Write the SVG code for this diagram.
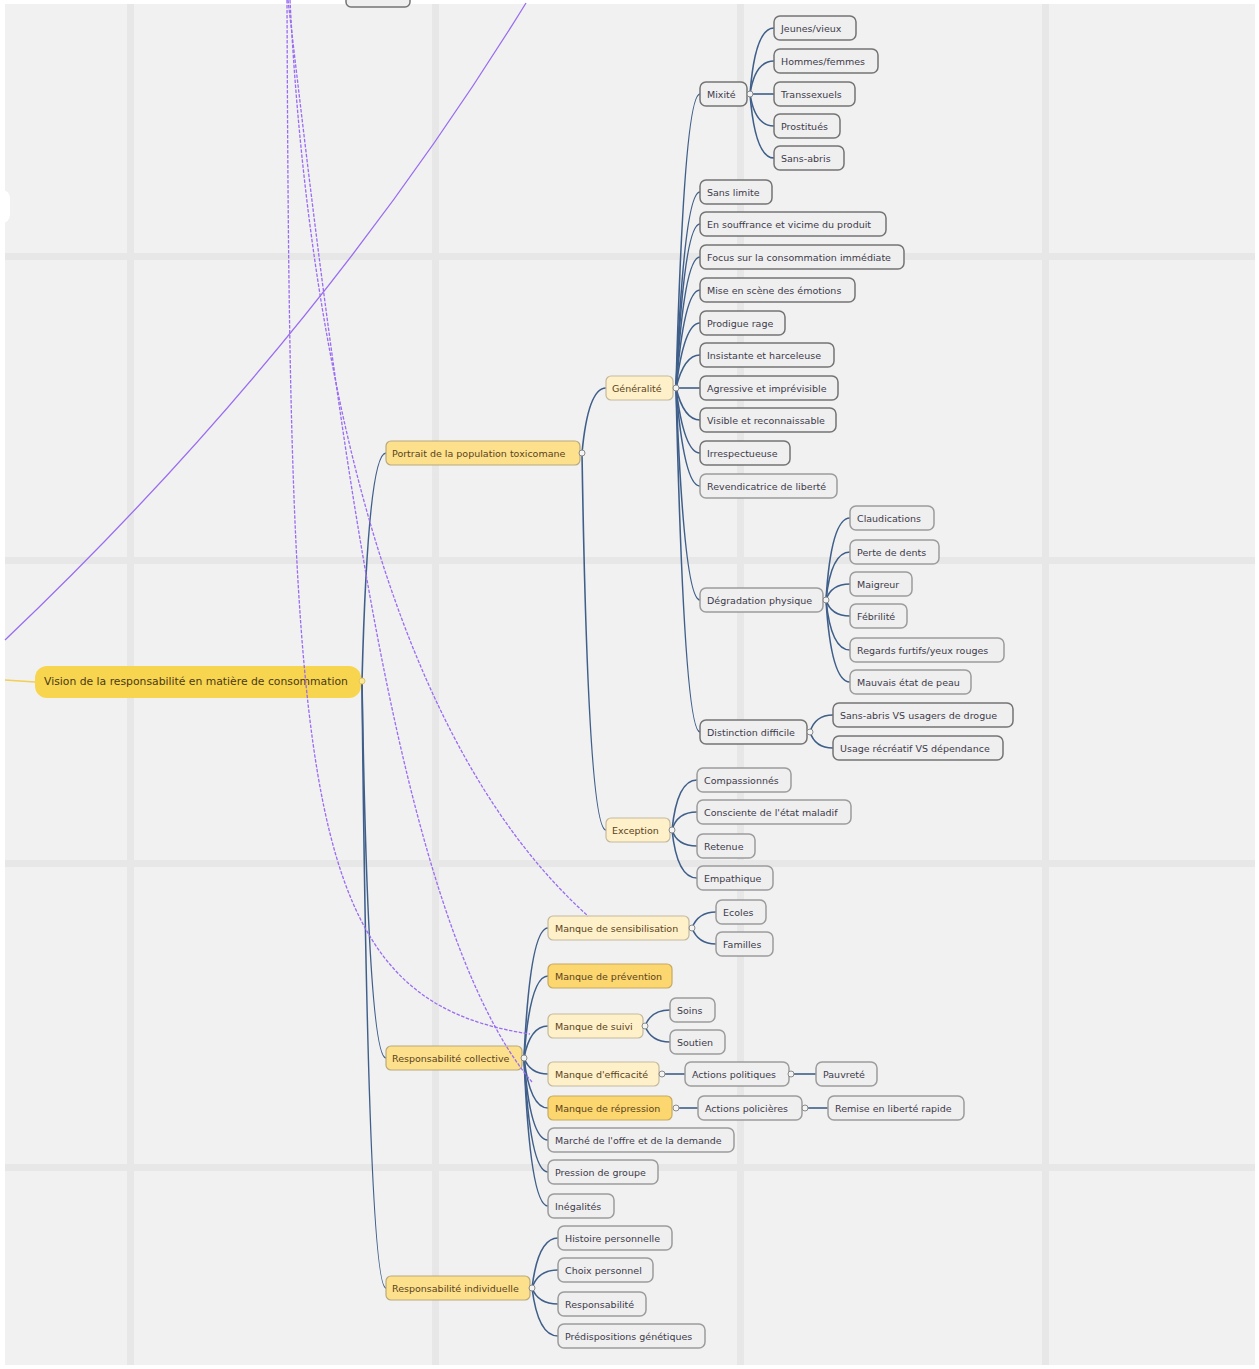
<svg xmlns="http://www.w3.org/2000/svg" width="1259" height="1369" viewBox="0 0 1259 1369">
<style>
text{font-family:"DejaVu Sans",Verdana,sans-serif;font-size:9.5px;fill:#3d3a4a}
.g rect{fill:#efefef;stroke:#747474;stroke-width:1.5}
.gl rect{fill:#efefef;stroke:#9c9c9c;stroke-width:1.5}
.l1 rect{fill:#fde08c;stroke:#b9a97e;stroke-width:1.2}
.pa rect{fill:#fef0c9;stroke:#c3b99d;stroke-width:1.2}
.dk rect{fill:#fcd66f;stroke:#c6aa62;stroke-width:1.2}
.l1 text,.pa text,.dk text{fill:#5a4320}
.c path{fill:none;stroke:#3f5f8a;stroke-width:1.6}
.dot{fill:#f4f4f4;stroke:#8a8a8a;stroke-width:1}
.pl{fill:none;stroke:#9a6cf0;stroke-width:1.3}
.pd{fill:none;stroke:#9a6cf0;stroke-width:1.3;stroke-dasharray:3.5 1.5}
</style>
<rect x="0" y="0" width="1259" height="1369" fill="#ffffff"/>
<rect x="5" y="4" width="1250" height="1361" fill="#f1f1f1"/>
<g fill="#e7e7e7">
<rect x="127" y="4" width="7" height="1361"/>
<rect x="432" y="4" width="7" height="1361"/>
<rect x="737" y="4" width="7" height="1361"/>
<rect x="1042" y="4" width="7" height="1361"/>
<rect x="5" y="253" width="1250" height="7"/>
<rect x="5" y="557" width="1250" height="7"/>
<rect x="5" y="860" width="1250" height="7"/>
<rect x="5" y="1164" width="1250" height="7"/>
</g>
<rect x="-20" y="190" width="30" height="33" rx="8" fill="#ffffff"/>
<rect x="346" y="-20" width="64" height="27" rx="5" fill="#efefef" stroke="#747474" stroke-width="1.5"/>

<g id="links">
<path class="pl" d="M5 640 Q315 345 526 3"/>
<path d="M5 680 L35 682" fill="none" stroke="#f1cf52" stroke-width="1.5"/>
</g>

<g id="connectors" class="c">
<path d="M362 681 Q368 453 386 453"/>
<path d="M362 681 Q368 1058 386 1058"/>
<path d="M362 681 Q368 1288 386 1288"/>
<path d="M582 453 Q588 388 606 388"/>
<path d="M582 453 Q588 830 606 830"/>
<path d="M676 388 Q684 94 700 94"/>
<path d="M676 388 Q684 192 700 192"/>
<path d="M676 388 Q684 224 700 224"/>
<path d="M676 388 Q684 257 700 257"/>
<path d="M676 388 Q684 290 700 290"/>
<path d="M676 388 Q684 323 700 323"/>
<path d="M676 388 Q684 355 700 355"/>
<path d="M676 388 L700 388"/>
<path d="M676 388 Q684 420 700 420"/>
<path d="M676 388 Q684 453 700 453"/>
<path d="M676 388 Q684 486 700 486"/>
<path d="M676 388 Q684 600 700 600"/>
<path d="M676 388 Q684 732 700 732"/>
<path d="M750 94 Q755 28 774 28"/>
<path d="M750 94 Q755 61 774 61"/>
<path d="M750 94 L774 94"/>
<path d="M750 94 Q755 126 774 126"/>
<path d="M750 94 Q755 158 774 158"/>
<path d="M826 600 Q831 518 850 518"/>
<path d="M826 600 Q831 552 850 552"/>
<path d="M826 600 Q831 584 850 584"/>
<path d="M826 600 Q831 616 850 616"/>
<path d="M826 600 Q831 650 850 650"/>
<path d="M826 600 Q831 682 850 682"/>
<path d="M810 732 Q815 715 833 715"/>
<path d="M810 732 Q815 748 833 748"/>
<path d="M672 830 Q677 780 697 780"/>
<path d="M672 830 Q677 812 697 812"/>
<path d="M672 830 Q677 846 697 846"/>
<path d="M672 830 Q677 878 697 878"/>
<path d="M524 1058 Q530 928 548 928"/>
<path d="M524 1058 Q530 976 548 976"/>
<path d="M524 1058 Q530 1026 548 1026"/>
<path d="M524 1058 Q530 1074 548 1074"/>
<path d="M524 1058 Q530 1108 548 1108"/>
<path d="M524 1058 Q530 1140 548 1140"/>
<path d="M524 1058 Q530 1172 548 1172"/>
<path d="M524 1058 Q530 1206 548 1206"/>
<path d="M692 928 Q698 912 716 912"/>
<path d="M692 928 Q698 944 716 944"/>
<path d="M645 1026 Q651 1010 670 1010"/>
<path d="M645 1026 Q651 1042 670 1042"/>
<path d="M662 1074 L685 1074"/>
<path d="M791 1074 L816 1074"/>
<path d="M676 1108 L698 1108"/>
<path d="M805 1108 L828 1108"/>
<path d="M532 1288 Q538 1238 558 1238"/>
<path d="M532 1288 Q538 1270 558 1270"/>
<path d="M532 1288 Q538 1304 558 1304"/>
<path d="M532 1288 Q538 1336 558 1336"/>
</g>

<g id="root"><rect x="35" y="666" width="326" height="32" rx="12" fill="#f8d54e"/><text x="44" y="685" style="font-size:10.8px;fill:#4a3a1a">Vision de la responsabilité en matière de consommation</text></g>

<g id="n-portrait" class="l1"><rect x="386" y="441" width="194" height="24" rx="5"/><text x="392" y="457">Portrait de la population toxicomane</text></g>
<g id="n-rcoll" class="l1"><rect x="386" y="1046" width="136" height="24" rx="5"/><text x="392" y="1062">Responsabilité collective</text></g>
<g id="n-rindiv" class="l1"><rect x="386" y="1276" width="144" height="24" rx="5"/><text x="392" y="1292">Responsabilité individuelle</text></g>

<g id="n-generalite" class="pa"><rect x="606" y="376" width="67" height="24" rx="5"/><text x="612" y="392">Généralité</text></g>
<g id="n-exception" class="pa"><rect x="606" y="818" width="64" height="24" rx="5"/><text x="612" y="834">Exception</text></g>

<g id="n-mixite" class="g"><rect x="700" y="82" width="47" height="24" rx="6"/><text x="707" y="98">Mixité</text></g>
<g id="n-jeunes" class="g"><rect x="774" y="16" width="82" height="24" rx="6"/><text x="781" y="32">Jeunes/vieux</text></g>
<g id="n-hommes" class="g"><rect x="774" y="49" width="104" height="24" rx="6"/><text x="781" y="65">Hommes/femmes</text></g>
<g id="n-trans" class="g"><rect x="774" y="82" width="81" height="24" rx="6"/><text x="781" y="98">Transsexuels</text></g>
<g id="n-prost" class="g"><rect x="774" y="114" width="66" height="24" rx="6"/><text x="781" y="130">Prostitués</text></g>
<g id="n-sansabris" class="g"><rect x="774" y="146" width="70" height="24" rx="6"/><text x="781" y="162">Sans-abris</text></g>

<g id="n-sanslimite" class="g"><rect x="700" y="180" width="72" height="24" rx="6"/><text x="707" y="196">Sans limite</text></g>
<g id="n-souffrance" class="g"><rect x="700" y="212" width="186" height="24" rx="6"/><text x="707" y="228">En souffrance et vicime du produit</text></g>
<g id="n-focus" class="g"><rect x="700" y="245" width="204" height="24" rx="6"/><text x="707" y="261">Focus sur la consommation immédiate</text></g>
<g id="n-scene" class="g"><rect x="700" y="278" width="155" height="24" rx="6"/><text x="707" y="294">Mise en scène des émotions</text></g>
<g id="n-rage" class="g"><rect x="700" y="311" width="85" height="24" rx="6"/><text x="707" y="327">Prodigue rage</text></g>
<g id="n-insist" class="g"><rect x="700" y="343" width="134" height="24" rx="6"/><text x="707" y="359">Insistante et harceleuse</text></g>
<g id="n-agress" class="g"><rect x="700" y="376" width="138" height="24" rx="6"/><text x="707" y="392">Agressive et imprévisible</text></g>
<g id="n-visible" class="g"><rect x="700" y="408" width="136" height="24" rx="6"/><text x="707" y="424">Visible et reconnaissable</text></g>
<g id="n-irresp" class="g"><rect x="700" y="441" width="90" height="24" rx="6"/><text x="707" y="457">Irrespectueuse</text></g>
<g id="n-revend" class="gl"><rect x="700" y="474" width="137" height="24" rx="6"/><text x="707" y="490">Revendicatrice de liberté</text></g>

<g id="n-degrad" class="gl"><rect x="700" y="588" width="123" height="24" rx="6"/><text x="707" y="604">Dégradation physique</text></g>
<g id="n-claud" class="gl"><rect x="850" y="506" width="84" height="24" rx="6"/><text x="857" y="522">Claudications</text></g>
<g id="n-dents" class="gl"><rect x="850" y="540" width="89" height="24" rx="6"/><text x="857" y="556">Perte de dents</text></g>
<g id="n-maigreur" class="gl"><rect x="850" y="572" width="62" height="24" rx="6"/><text x="857" y="588">Maigreur</text></g>
<g id="n-febril" class="gl"><rect x="850" y="604" width="57" height="24" rx="6"/><text x="857" y="620">Fébrilité</text></g>
<g id="n-regards" class="gl"><rect x="850" y="638" width="154" height="24" rx="6"/><text x="857" y="654">Regards furtifs/yeux rouges</text></g>
<g id="n-peau" class="gl"><rect x="850" y="670" width="121" height="24" rx="6"/><text x="857" y="686">Mauvais état de peau</text></g>

<g id="n-distinct" class="g"><rect x="700" y="720" width="107" height="24" rx="6"/><text x="707" y="736">Distinction difficile</text></g>
<g id="n-sansabrisvs" class="g"><rect x="833" y="703" width="180" height="24" rx="6"/><text x="840" y="719">Sans-abris VS usagers de drogue</text></g>
<g id="n-usage" class="g"><rect x="833" y="736" width="170" height="24" rx="6"/><text x="840" y="752">Usage récréatif VS dépendance</text></g>

<g id="n-compass" class="gl"><rect x="697" y="768" width="94" height="24" rx="6"/><text x="704" y="784">Compassionnés</text></g>
<g id="n-consc" class="gl"><rect x="697" y="800" width="154" height="24" rx="6"/><text x="704" y="816">Consciente de l'état maladif</text></g>
<g id="n-retenue" class="gl"><rect x="697" y="834" width="58" height="24" rx="6"/><text x="704" y="850">Retenue</text></g>
<g id="n-empath" class="gl"><rect x="697" y="866" width="76" height="24" rx="6"/><text x="704" y="882">Empathique</text></g>

<g id="n-sensib" class="pa"><rect x="548" y="916" width="141" height="24" rx="5"/><text x="555" y="932">Manque de sensibilisation</text></g>
<g id="n-ecoles" class="gl"><rect x="716" y="900" width="50" height="24" rx="6"/><text x="723" y="916">Ecoles</text></g>
<g id="n-familles" class="gl"><rect x="716" y="932" width="57" height="24" rx="6"/><text x="723" y="948">Familles</text></g>
<g id="n-prev" class="dk"><rect x="548" y="964" width="124" height="24" rx="5"/><text x="555" y="980">Manque de prévention</text></g>
<g id="n-suivi" class="pa"><rect x="548" y="1014" width="95" height="24" rx="5"/><text x="555" y="1030">Manque de suivi</text></g>
<g id="n-soins" class="gl"><rect x="670" y="998" width="45" height="24" rx="6"/><text x="677" y="1014">Soins</text></g>
<g id="n-soutien" class="gl"><rect x="670" y="1030" width="55" height="24" rx="6"/><text x="677" y="1046">Soutien</text></g>
<g id="n-effic" class="pa"><rect x="548" y="1062" width="111" height="24" rx="5"/><text x="555" y="1078">Manque d'efficacité</text></g>
<g id="n-actpol" class="gl"><rect x="685" y="1062" width="104" height="24" rx="6"/><text x="692" y="1078">Actions politiques</text></g>
<g id="n-pauvrete" class="gl"><rect x="816" y="1062" width="61" height="24" rx="6"/><text x="823" y="1078">Pauvreté</text></g>
<g id="n-repr" class="dk"><rect x="548" y="1096" width="124" height="24" rx="5"/><text x="555" y="1112">Manque de répression</text></g>
<g id="n-actpolice" class="gl"><rect x="698" y="1096" width="104" height="24" rx="6"/><text x="705" y="1112">Actions policières</text></g>
<g id="n-remise" class="gl"><rect x="828" y="1096" width="136" height="24" rx="6"/><text x="835" y="1112">Remise en liberté rapide</text></g>
<g id="n-marche" class="gl"><rect x="548" y="1128" width="186" height="24" rx="6"/><text x="555" y="1144">Marché de l'offre et de la demande</text></g>
<g id="n-pression" class="gl"><rect x="548" y="1160" width="110" height="24" rx="6"/><text x="555" y="1176">Pression de groupe</text></g>
<g id="n-inegal" class="gl"><rect x="548" y="1194" width="66" height="24" rx="6"/><text x="555" y="1210">Inégalités</text></g>

<g id="n-histoire" class="gl"><rect x="558" y="1226" width="114" height="24" rx="6"/><text x="565" y="1242">Histoire personnelle</text></g>
<g id="n-choix" class="gl"><rect x="558" y="1258" width="95" height="24" rx="6"/><text x="565" y="1274">Choix personnel</text></g>
<g id="n-respons" class="gl"><rect x="558" y="1292" width="88" height="24" rx="6"/><text x="565" y="1308">Responsabilité</text></g>
<g id="n-predisp" class="gl"><rect x="558" y="1324" width="147" height="24" rx="6"/><text x="565" y="1340">Prédispositions génétiques</text></g>

<g id="anchors">
<circle cx="362" cy="681" r="3" fill="#fbe79a" stroke="#e0c560" stroke-width="1"/>
<circle class="dot" cx="582" cy="453" r="3"/>
<circle class="dot" cx="676" cy="388" r="3"/>
<circle class="dot" cx="750" cy="94" r="3"/>
<circle class="dot" cx="826" cy="600" r="3"/>
<circle class="dot" cx="810" cy="732" r="3"/>
<circle class="dot" cx="672" cy="830" r="3"/>
<circle class="dot" cx="524" cy="1058" r="3"/>
<circle class="dot" cx="532" cy="1288" r="3"/>
<circle class="dot" cx="692" cy="928" r="3"/>
<circle class="dot" cx="645" cy="1026" r="3"/>
<circle class="dot" cx="662" cy="1074" r="3"/>
<circle class="dot" cx="791" cy="1074" r="3"/>
<circle class="dot" cx="676" cy="1108" r="3"/>
<circle class="dot" cx="805" cy="1108" r="3"/>
</g>

<g id="relations">
<path class="pd" d="M287 0 C290 800 300 1000 530 1034"/>
<path class="pd" d="M290 0 C305 300 370 720 588 916"/>
<path class="pd" d="M288 0 C335 400 395 920 532 1082"/>
</g>
</svg>
